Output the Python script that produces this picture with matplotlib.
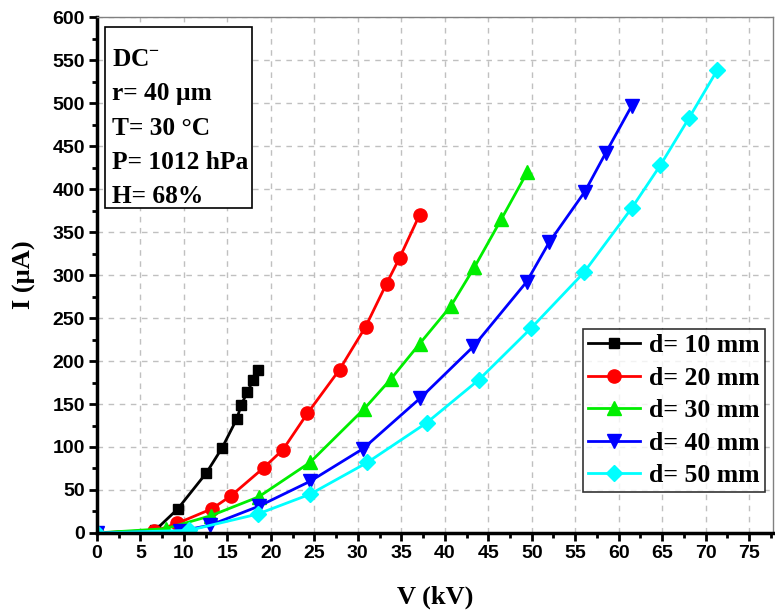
import numpy as np
import matplotlib
matplotlib.use("Agg")
import matplotlib.pyplot as plt
from matplotlib.ticker import MultipleLocator
from matplotlib.patches import Rectangle

# I-V data for each gap distance d (V in kV, I in uA)
v_10 = [0, 6.7, 9.3, 12.6, 14.4, 16.1, 16.6, 17.3, 18.0, 18.55]
i_10 = [0, 3, 28, 70, 99, 133, 149, 164, 178, 189]

v_20 = [0, 6.6, 9.2, 13.2, 15.4, 19.2, 21.4, 24.2, 27.9, 30.9, 33.3, 34.8, 37.1]
i_20 = [0, 2, 11, 28, 43, 76, 97, 139, 190, 240, 290, 320, 370]

v_30 = [0, 7.9, 13.1, 18.6, 24.5, 30.7, 33.8, 37.1, 40.7, 43.4, 46.5, 49.5]
i_30 = [0, 5, 20, 42, 82, 144, 179, 220, 264, 309, 365, 420]

v_40 = [0, 9.5, 13.0, 18.6, 24.5, 30.6, 37.2, 43.3, 49.4, 52.0, 56.1, 58.5, 61.5]
i_40 = [0, 2, 9, 31, 60, 98, 157, 217, 292, 338, 397, 442, 497]

v_50 = [0, 10.6, 18.5, 24.5, 31.1, 37.9, 43.9, 49.9, 56.0, 61.5, 64.8, 68.1, 71.3]
i_50 = [0, 3, 22, 45, 82, 128, 178, 238, 303, 378, 428, 483, 538]

labels = ["d= 10 mm", "d= 20 mm", "d= 30 mm", "d= 40 mm", "d= 50 mm"]
info_lines = ["DC$^{\\mathbf{-}}$", "r= 40 \u00b5m", "T= 30 \u00b0C", "P= 1012 hPa", "H= 68%"]

series = [(v_10, i_10), (v_20, i_20), (v_30, i_30), (v_40, i_40), (v_50, i_50)]
colors = ["black", "#ff0000", "#00ee00", "#0000ff", "#00ffff"]
markers = ["s", "o", "^", "v", "D"]
msizes = [7.5, 9.5, 10.5, 10.5, 8.5]

serif = "Liberation Serif"
plt.rcParams["font.family"] = "Liberation Sans"
plt.rcParams["font.weight"] = "bold"
plt.rcParams["mathtext.fontset"] = "custom"
plt.rcParams["mathtext.rm"] = "Liberation Serif:bold"
plt.rcParams["mathtext.bf"] = "Liberation Serif:bold"

fig = plt.figure(figsize=(7.75, 6.14), dpi=100)
ax = fig.add_axes([0.125, 0.132, 0.872, 0.840])

for (v, i), c, m, ms, lab in zip(series, colors, markers, msizes, labels):
    ax.plot(v, i, color=c, marker=m, markersize=ms, linewidth=2, label=lab)

ax.set_xlim(0, 77.7)
ax.set_ylim(0, 600)
ax.xaxis.set_major_locator(MultipleLocator(5))
ax.xaxis.set_minor_locator(MultipleLocator(2.5))
ax.yaxis.set_major_locator(MultipleLocator(50))
ax.yaxis.set_minor_locator(MultipleLocator(25))
ax.grid(True, which="major", color="#c0c0c0", linestyle=(0, (4, 4)), linewidth=1)
ax.set_axisbelow(True)

ax.tick_params(which="major", direction="out", length=6, width=2, labelsize=14, pad=2.5)
ax.tick_params(which="minor", direction="out", length=3.5, width=2)

ax.spines["left"].set_linewidth(2.5)
ax.spines["bottom"].set_linewidth(2.5)
for s in ("top", "right"):
    ax.spines[s].set_linewidth(1)
    ax.spines[s].set_color("#808080")

ax.set_xlabel("V (kV)", fontfamily=serif, fontweight="bold", fontsize=19, labelpad=17)
ax.set_ylabel("I (\u00b5A)", fontfamily=serif, fontweight="bold", fontsize=19, labelpad=12)

leg = ax.legend(loc="lower right", bbox_to_anchor=(0.988, 0.079),
                prop={"family": serif, "weight": "bold", "size": 18.5},
                handlelength=2.0, frameon=True, fancybox=False,
                edgecolor="black", borderpad=0.2, labelspacing=0.37,
                handletextpad=0.35, borderaxespad=0)
leg.get_frame().set_linewidth(1.2)

# conditions box in the upper left corner
ax.add_patch(Rectangle((0.0118, 0.630), 0.2175, 0.3506, transform=ax.transAxes,
                       facecolor="white", edgecolor="black", linewidth=1.2, zorder=5))
ax.text(0.0222, 0.940, "\n".join(info_lines), transform=ax.transAxes,
        ha="left", va="top", fontfamily=serif, fontweight="bold", fontsize=18.3,
        linespacing=1.63, zorder=6)

fig.canvas.draw()
for lbl in ax.get_xticklabels() + ax.get_yticklabels():
    lbl.set_fontweight("bold")

fig.savefig("out.png", dpi=100)
